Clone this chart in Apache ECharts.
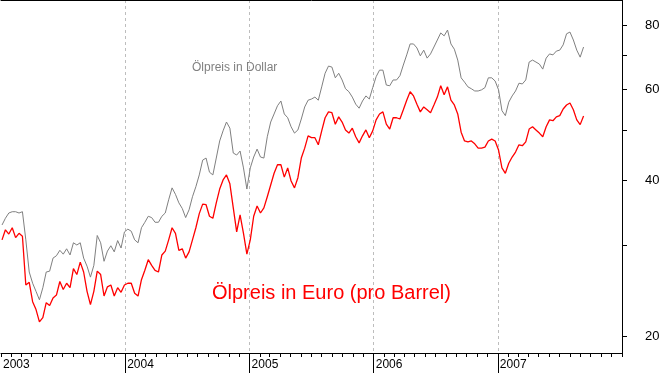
<!DOCTYPE html>
<html>
<head>
<meta charset="utf-8">
<script src="https://cdn.jsdelivr.net/npm/echarts@6/dist/echarts.min.js"></script>
<style>
html,body{margin:0;padding:0;background:#fff;}
#chart{width:663px;height:373px;}
</style>
</head>
<body>
<div id="chart"></div>
<script>
// sampling: every 10 days starting 2003-01-04
const startDate = '2003-01-04';
const stepDays = 10;

// Ölpreis in Dollar (per barrel)
const dollarPrice = [
  32.8, 33.8, 34.6, 34.8, 34.8, 34.6, 34.8, 30.7, 26.6, 25.3,
  24.4, 23.5, 24.8, 26.6, 26.7, 28.3, 28.6, 29.3, 28.8, 29.5,
  28.7, 30.3, 30.0, 30.3, 28.3, 27.3, 26.0, 27.4, 31.3, 30.3,
  27.9, 29.2, 29.9, 29.1, 30.6, 29.6, 31.8, 32.2, 31.9, 30.7,
  30.3, 32.4, 33.2, 34.1, 33.9, 33.2, 33.2, 34.1, 34.6, 36.7,
  38.7, 37.6, 36.2, 35.3, 33.9, 35.1, 37.2, 38.9, 41.0, 43.8,
  44.2, 41.5, 41.0, 44.2, 47.7, 49.9, 51.9, 50.5, 45.2, 44.8,
  45.6, 42.3, 38.5, 42.3, 44.4, 46.0, 44.4, 44.2, 48.6, 51.9,
  53.8, 55.8, 57.0, 53.8, 52.9, 50.8, 49.4, 50.1, 52.6, 55.5,
  57.2, 57.5, 58.0, 57.2, 60.7, 64.5, 66.6, 66.3, 63.2, 64.5,
  62.6, 60.2, 59.4, 58.0, 56.2, 55.2, 57.0, 58.3, 57.5, 60.5,
  63.5, 65.4, 65.4, 61.2, 61.0, 62.6, 62.6, 63.8, 66.9, 70.0,
  73.5, 73.5, 72.2, 69.7, 71.5, 69.0, 70.3, 72.5, 74.8, 77.2,
  76.2, 78.2, 73.5, 71.8, 68.4, 63.2, 62.0, 60.7, 60.2, 59.6,
  59.6, 59.9, 60.5, 63.2, 63.2, 62.3, 59.9, 54.6, 53.4, 56.7,
  58.3, 59.6, 61.7, 61.5, 62.6, 67.8, 68.4, 67.8, 67.2, 65.7,
  69.0, 70.3, 70.0, 71.2, 71.5, 73.2, 76.9, 77.5, 74.8, 71.5,
  69.3, 72.5
];

// Ölpreis in Euro (pro Barrel)
const euroPrice = [
  30.7, 32.1, 31.5, 32.4, 31.0, 31.6, 31.2, 25.1, 25.4, 23.3,
  22.5, 21.3, 21.7, 23.2, 22.9, 23.7, 24.0, 25.5, 24.6, 25.3,
  24.8, 27.0, 26.3, 27.8, 26.6, 24.4, 23.0, 24.4, 26.7, 26.3,
  23.9, 24.9, 25.1, 23.9, 24.8, 24.3, 25.1, 25.3, 25.3, 24.2,
  23.9, 25.7, 26.8, 28.1, 27.4, 26.8, 26.6, 28.7, 29.2, 30.7,
  32.4, 31.6, 29.3, 29.5, 28.3, 29.1, 30.7, 32.4, 34.5, 36.0,
  35.9, 34.1, 33.8, 36.2, 38.5, 40.1, 41.0, 39.4, 35.4, 31.8,
  34.3, 31.6, 28.8, 30.7, 34.1, 35.7, 34.6, 35.4, 37.2, 39.2,
  41.3, 42.9, 42.9, 40.6, 42.3, 39.9, 38.7, 40.5, 44.2, 46.2,
  48.8, 48.4, 48.4, 46.9, 49.9, 52.9, 54.3, 54.1, 51.4, 53.1,
  51.9, 50.1, 49.4, 50.5, 48.6, 47.3, 48.8, 50.1, 48.4, 49.9,
  52.4, 53.8, 54.3, 51.4, 50.3, 52.9, 52.9, 52.6, 54.8, 57.2,
  59.4, 58.3, 56.2, 54.3, 55.5, 54.8, 54.1, 56.0, 58.0, 61.0,
  58.6, 60.7, 57.2, 56.0, 53.8, 49.6, 47.7, 47.5, 47.7, 47.1,
  46.2, 46.2, 46.4, 47.7, 48.1, 47.7, 45.8, 42.3, 41.3, 43.2,
  44.4, 45.4, 46.9, 46.7, 47.5, 50.3, 50.8, 50.1, 49.4, 48.6,
  50.8, 52.4, 52.2, 53.1, 53.4, 55.0, 56.0, 56.5, 54.8, 52.4,
  51.3, 53.3
];

const years = [2003, 2004, 2005, 2006, 2007];
const yTickValues = [20, 30, 40, 50, 60, 70, 80];
const yLabelValues = [20, 40, 60, 80];
const dollarLabel = 'Ölpreis in Dollar';
const euroLabel = 'Ölpreis in Euro (pro Barrel)';

const DAY = 86400000;
const t0 = Date.parse(startDate + 'T00:00:00Z');
const dates = dollarPrice.map((_, i) => t0 + i * stepDays * DAY);

const yearLabels = years.map(y => Date.UTC(y, 0, 1));
const yearTicks = yearLabels.slice(1); // the 2003 boundary sits on the cropped left edge
const monthTicks = [];
years.forEach(y => { for (let m = 0; m < 12; m++) monthTicks.push(Date.UTC(y, m, 1)); });
monthTicks.push(Date.UTC(2008, 0, 1));

const xMin = Date.UTC(2003, 0, 1);
const xMax = Date.UTC(2008, 0, 1);
const FONT = '"Liberation Sans", Arial, sans-serif';

const chart = echarts.init(document.getElementById('chart'), null, {renderer: 'canvas'});
chart.setOption({
  animation: false,
  backgroundColor: '#ffffff',
  grid: {
    left: -1, right: 41, top: 0, bottom: 20, show: false
  },
  xAxis: [
    {
      type: 'value', min: xMin, max: xMax, position: 'bottom', scale: true,
      axisLine: {show: true, lineStyle: {color: '#000', width: 1}},
      axisTick: {show: true, customValues: monthTicks, length: 4, lineStyle: {color: '#000'}},
      axisLabel: {show: false},
      splitLine: {show: false},
      minorTick: {show: false}
    },
    {
      type: 'value', min: xMin, max: xMax, position: 'bottom', scale: true,
      axisLine: {show: false},
      axisTick: {show: true, customValues: yearTicks, length: 20, lineStyle: {color: '#000'}},
      axisLabel: {
        show: true, customValues: yearLabels, align: 'left', margin: 6,
        padding: [0, 0, 0, 2],
        color: '#000', fontSize: 12, fontFamily: FONT,
        formatter: v => String(new Date(v).getUTCFullYear())
      },
      splitLine: {show: true, lineStyle: {color: '#bdbdbd', width: 1, type: [3, 3]}}
    },
    {
      type: 'value', min: xMin, max: xMax, position: 'top', scale: true,
      axisLine: {show: true, lineStyle: {color: '#000', width: 1}},
      axisTick: {show: false},
      axisLabel: {show: false},
      splitLine: {show: false}
    }
  ],
  yAxis: {
    type: 'log', logBase: 10, min: 18.54, max: 89.4, position: 'right',
    axisLine: {show: true, lineStyle: {color: '#000', width: 1}},
    axisTick: {show: true, customValues: yTickValues, length: 5, inside: false, lineStyle: {color: '#000'}},
    axisLabel: {
      show: true, customValues: yLabelValues, margin: 23, align: 'left',
      color: '#000', fontSize: 13, fontFamily: FONT
    },
    splitLine: {show: false},
    minorTick: {show: false}
  },
  graphic: [
    {type: 'text', x: 192, y: 68, silent: true,
     style: {text: dollarLabel, fill: '#808080', font: '12px ' + FONT, align: 'left', verticalAlign: 'middle'}},
    {type: 'text', x: 212, y: 293, silent: true,
     style: {text: euroLabel, fill: '#ff0000', font: '20px ' + FONT, align: 'left', verticalAlign: 'middle'}}
  ],
  series: [
    {
      name: dollarLabel, type: 'line', xAxisIndex: 0, showSymbol: false,
      data: dates.map((d, i) => [d, dollarPrice[i]]),
      lineStyle: {color: '#808080', width: 1}, itemStyle: {color: '#808080'}
    },
    {
      name: euroLabel, type: 'line', xAxisIndex: 0, showSymbol: false,
      data: dates.map((d, i) => [d, euroPrice[i]]),
      lineStyle: {color: '#ff0000', width: 1.3}, itemStyle: {color: '#ff0000'}
    }
  ]
});
</script>
</body>
</html>
